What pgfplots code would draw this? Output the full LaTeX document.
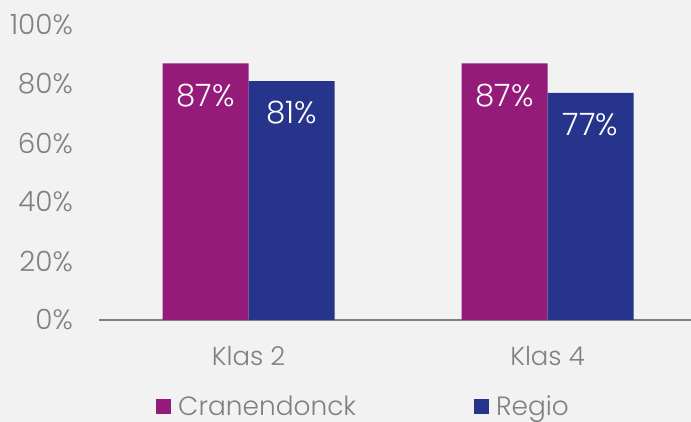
\documentclass[border=0pt]{standalone}
\usepackage{pgfplots}
\pgfplotsset{compat=1.18}
\usepackage{fontspec}
\setmainfont{Poppins}[UprightFont=* Light]
\definecolor{bg}{HTML}{F2F2F2}
\definecolor{cpurple}{HTML}{951B7B}
\definecolor{cblue}{HTML}{27348B}
\definecolor{tgray}{HTML}{808080}
\definecolor{agray}{HTML}{7F7F7F}
\begin{document}
\begin{tikzpicture}
\useasboundingbox (0,0) rectangle (691bp,422bp);
\fill[bg] (0,0) rectangle (691bp,422bp);
\clip (0,0) rectangle (691bp,422bp);
\begin{axis}[
  at={(99bp,102bp)}, anchor=south west,
  scale only axis, width=598bp, height=295bp,
  xmin=-0.5, xmax=1.5, ymin=0, ymax=100,
  ybar=0pt, bar width=86bp,
  axis lines*=left,
  y axis line style={draw=none},
  x axis line style={agray, line width=1.5bp, -},
  major tick length=0pt,
  xtick={0,1}, xticklabels={Klas 2, Klas 4},
  ytick={0,20,40,60,80,100},
  yticklabel={\pgfmathprintnumber{\tick}\%},
  /pgf/number format/assume math mode=true,
  tick label style={font=\fontsize{28}{34}\selectfont, text=tgray},
  yticklabel style={anchor=east, inner sep=0pt, xshift=-26bp},
  xticklabel style={anchor=base, inner sep=0pt, yshift=-45bp, font=\fontsize{26}{32}\selectfont},
  nodes near coords={\pgfmathprintnumber{\pgfplotspointmeta}\%},
  every node near coord/.append style={anchor=center, yshift=-32bp, text=white, font=\fontsize{31}{36}\selectfont},
  legend columns=2,
  legend image code/.code={\fill[#1] (0bp,-7.5bp) rectangle (15bp,7.5bp);},
  legend style={at={(0.0953,-0.2932)}, anchor=west, draw=none, fill=none, inner sep=0pt,
    font=\fontsize{26.5}{32}\selectfont, text=tgray,
    nodes={inner sep=0pt},
    /tikz/every odd column/.append style={column sep=7bp},
    /tikz/every even column/.append style={column sep=118bp}},
]
\addplot[fill=cpurple, draw=none] coordinates {(0,87) (1,87)};
\addplot[fill=cblue, draw=none] coordinates {(0,81) (1,77)};
\legend{Cranendonck, Regio}
\end{axis}
\end{tikzpicture}
\end{document}
